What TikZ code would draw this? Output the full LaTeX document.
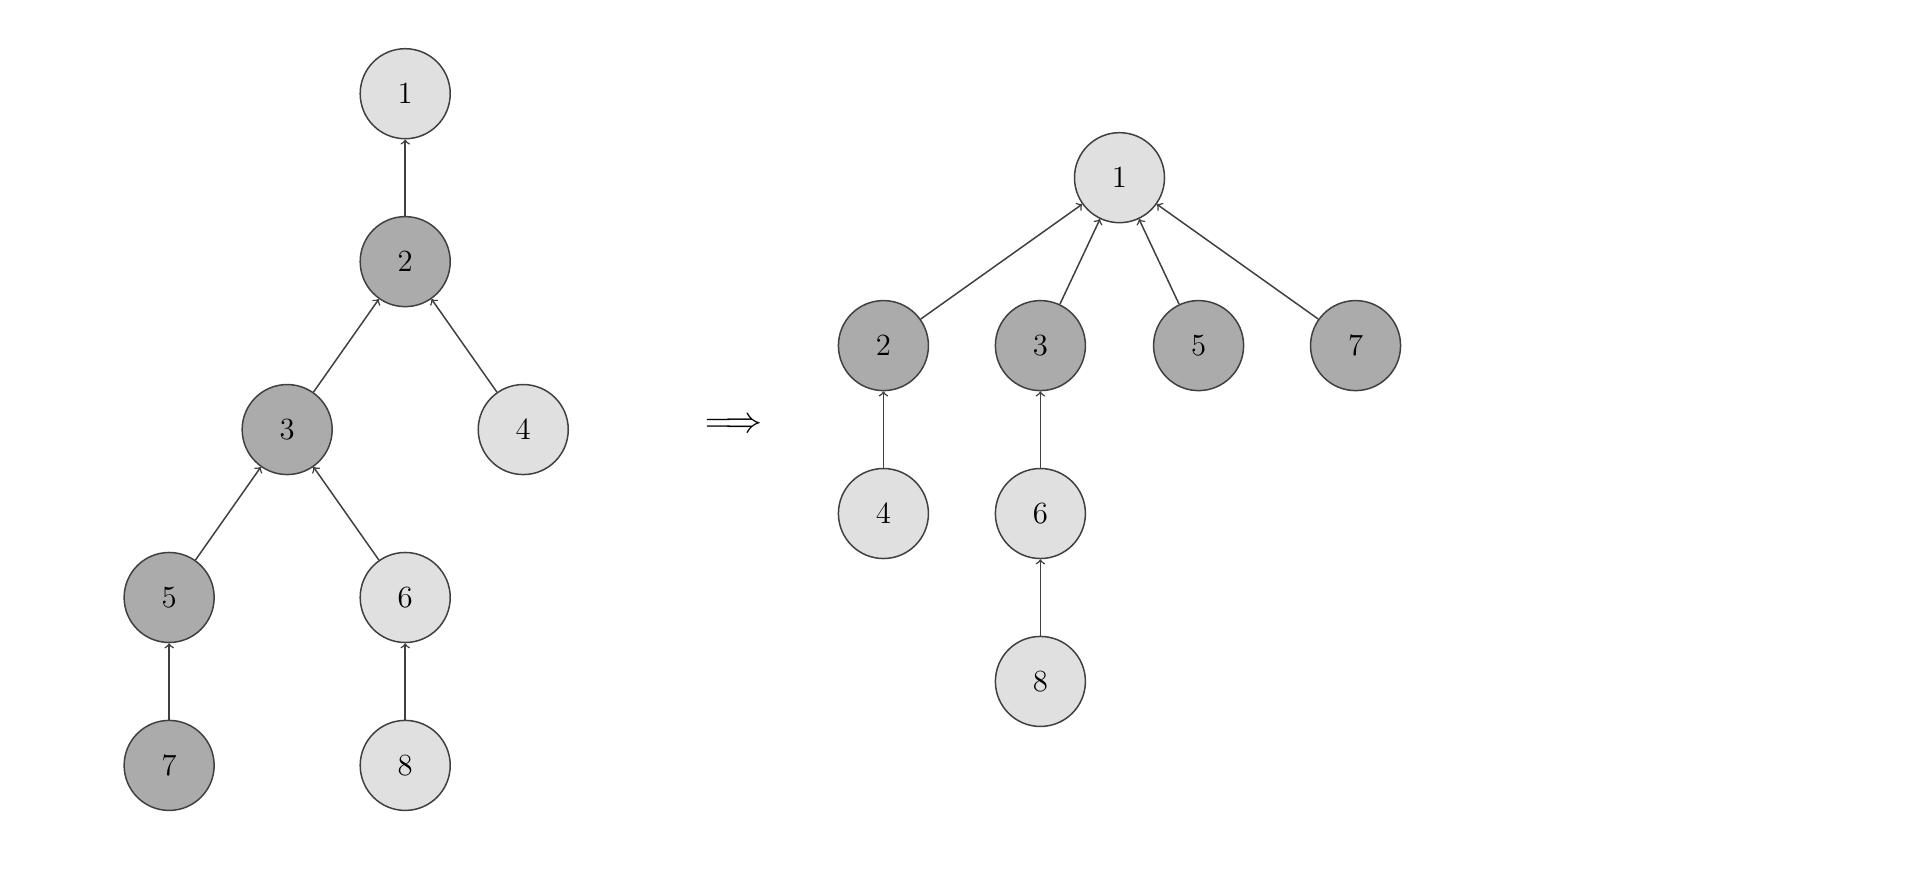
\documentclass[tikz,border=0pt]{standalone}
\usepackage{amssymb}
\begin{document}
\begin{tikzpicture}[x=0.02cm,y=-0.02cm,
  light/.style={circle,draw=black!75,fill=black!12,line width=0.7pt,minimum size=1.48cm,inner sep=0pt,font=\Large},
  dark/.style={circle,draw=black!75,fill=black!33,line width=0.7pt,minimum size=1.48cm,inner sep=0pt,font=\Large},
  edge/.style={->,draw=black!75,line width=0.7pt,>=to}]
\useasboundingbox (0,0) rectangle (1568,725);
\node[light] (a1) at (333,77) {1};
\node[dark] (a2) at (333,215) {2};
\node[dark] (a3) at (236,353) {3};
\node[light] (a4) at (430,353) {4};
\node[dark] (a5) at (139,491) {5};
\node[light] (a6) at (333,491) {6};
\node[dark] (a7) at (139,629) {7};
\node[light] (a8) at (333,629) {8};
\draw[edge] (a2)--(a1);
\draw[edge] (a3)--(a2);
\draw[edge] (a4)--(a2);
\draw[edge] (a5)--(a3);
\draw[edge] (a6)--(a3);
\draw[edge] (a7)--(a5);
\draw[edge] (a8)--(a6);
\node[font=\LARGE] (imp) at (603,350) {$\Longrightarrow$};
\node[light] (b1) at (920,146) {1};
\node[dark] (b2) at (726,284) {2};
\node[dark] (b3) at (855,284) {3};
\node[dark] (b5) at (985,284) {5};
\node[dark] (b7) at (1114,284) {7};
\node[light] (b4) at (726,422) {4};
\node[light] (b6) at (855,422) {6};
\node[light] (b8) at (855,560) {8};
\draw[edge] (b2)--(b1);
\draw[edge] (b3)--(b1);
\draw[edge] (b5)--(b1);
\draw[edge] (b7)--(b1);
\draw[edge] (b4)--(b2);
\draw[edge] (b6)--(b3);
\draw[edge] (b8)--(b6);
\end{tikzpicture}
\end{document}
